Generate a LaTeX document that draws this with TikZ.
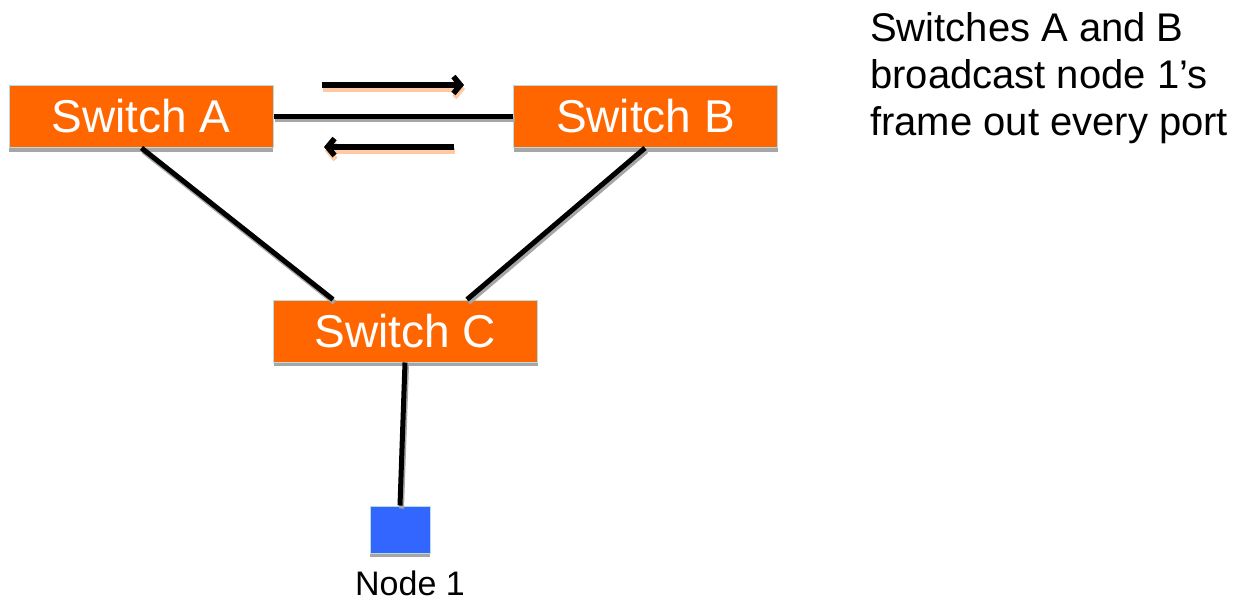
\documentclass[tikz,border=0pt]{standalone}
\usepackage{fontspec}
\setmainfont{Liberation Sans}
\usetikzlibrary{arrows.meta,shadows}
\definecolor{swor}{HTML}{FF6600}
\definecolor{edgeblue}{HTML}{B6DDE2}
\definecolor{nodeblue}{HTML}{3366FF}
\definecolor{shgray}{HTML}{A6A6A6}
\definecolor{arrsh}{HTML}{FFC9A3}
\tikzset{
  switchbox/.style={draw=edgeblue, line width=1pt, fill=swor, text=white,
    minimum width=264pt, minimum height=62pt, inner sep=0pt,
    font=\fontsize{46}{50}\selectfont,
    drop shadow={shadow xshift=0pt, shadow yshift=-4pt, fill=shgray, opacity=1}},
  hostbox/.style={draw=edgeblue, line width=1pt, fill=nodeblue,
    minimum width=60pt, minimum height=47pt, inner sep=0pt,
    drop shadow={shadow xshift=0pt, shadow yshift=-4pt, fill=shgray, opacity=1}},
  link/.style={line width=5pt,
    preaction={draw=shgray, line width=5pt, transform canvas={xshift=1.5pt,yshift=-3pt}}},
  flowhead/.style={-{Straight Barb[length=7pt,width=17pt,line width=5.5pt]}},
  flow/.style={line width=6pt, flowhead,
    preaction={draw=arrsh, line width=6pt, flowhead,
      transform canvas={xshift=1pt,yshift=-4pt}}},
  note/.style={font=\fontsize{40}{47}\selectfont, align=left, anchor=north west, inner sep=0pt},
}
\begin{document}
\begin{tikzpicture}[x=1pt,y=-1pt]
\useasboundingbox (0,0) rectangle (1236,603);
% nodes
\node[switchbox] (A) at (141,116.5) {Switch A};
\node[switchbox] (B) at (645.5,116.5) {Switch B};
\node[switchbox] (C) at (405.5,331) {Switch C};
\node[hostbox] (N) at (400,529.5) {};
\node[font=\fontsize{34}{40}\selectfont, inner sep=0pt] (NL) at (410,583) {Node 1};
\node[note] (T) at (870,12) {Switches A and B\\broadcast node 1's\\frame out every port};
% links
\draw[link] (A.east) -- (B.west);
\draw[link] ([xshift=133pt]A.south west) -- ([xshift=60pt]C.north west);
\draw[link] ([xshift=132pt]B.south west) -- ([xshift=194pt]C.north west);
\draw[link] ([xshift=132pt]C.south west) -- (N.north);
% flow arrows
\coordinate (f1s) at (322,85);
\coordinate (f1e) at (464,85);
\coordinate (f2s) at (454,147);
\coordinate (f2e) at (324,147);
\draw[flow] (f1s) -- (f1e);
\draw[flow] (f2s) -- (f2e);
\end{tikzpicture}
\end{document}
